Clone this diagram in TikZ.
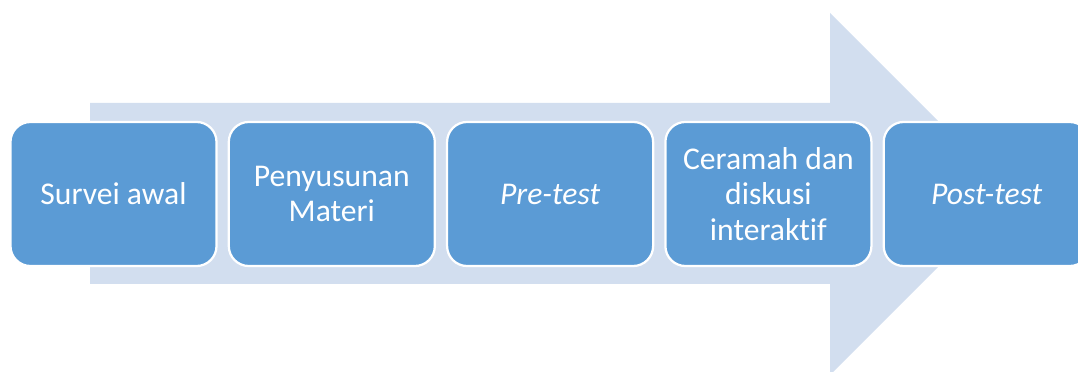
\documentclass[tikz,border=0pt]{standalone}
\usepackage{fontspec}
\setmainfont{Carlito}[RawFeature=-liga]
\usepackage{tikz}
\usetikzlibrary{positioning}
\definecolor{stepblue}{RGB}{91,155,213}
\definecolor{arrowblue}{RGB}{210,222,239}
\tikzset{%
    stepbox/.style={%
        draw=white, line width=1.6pt, fill=stepblue, text=white,
        rounded corners=0.5cm, minimum width=5.15cm, minimum height=3.6cm,
        align=center, inner sep=2pt,
        font=\fontsize{22.5}{25.5}\selectfont
    }
}
\begin{document}
\begin{tikzpicture}[x=0.025cm,y=-0.025cm]
    \useasboundingbox (0,0) rectangle (1078,372);
%-----------------------------------------------
    \fill[arrowblue] (90,103) -- (830,103) -- (830,13) -- (1011,194)
        -- (830,375) -- (830,284) -- (90,284) -- cycle;
%-----------------------------------------------
    \node[stepbox] (survei) at (113.5,194) {Survei awal};
    \node[stepbox, right=0.25cm of survei] (materi) {Penyusunan\\Materi};
    \node[stepbox, right=0.25cm of materi] (pretest) {\textit{Pre-test}};
    \node[stepbox, right=0.25cm of pretest] (ceramah) {Ceramah dan\\diskusi\\interaktif};
    \node[stepbox, right=0.25cm of ceramah] (posttest) {\textit{Post-test}};
\end{tikzpicture}
\end{document}
